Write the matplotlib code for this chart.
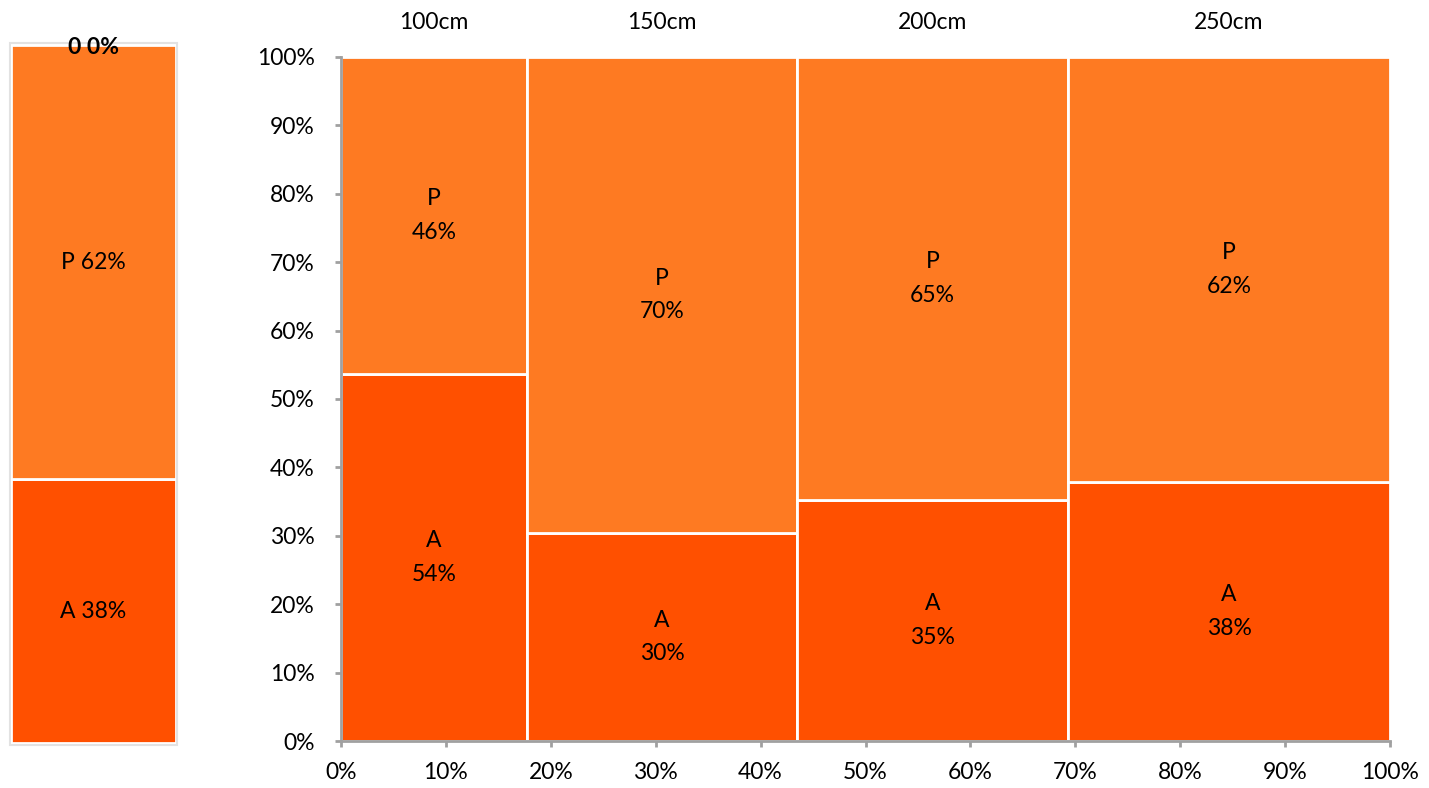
import matplotlib
matplotlib.use("Agg")
import matplotlib.pyplot as plt
from matplotlib.patches import Rectangle
from matplotlib.ticker import FuncFormatter, MultipleLocator

plt.rcParams['font.family'] = ['Lato', 'DejaVu Sans']

categories = ['100cm', '150cm', '200cm', '250cm']
widths = [17.7, 25.8, 25.8, 30.7]          # share of total (x, %)
a_share = [53.7, 30.4, 35.2, 37.9]         # share of A within column (%)
p_share = [100 - v for v in a_share]
total_a = 37.8
total_p = 62.2
series = ['A', 'P']
col_a = '#FF5000'
col_p = '#FE7A22'
FS = 16.5

W, H = 1429, 788
fig = plt.figure(figsize=(W / 100, H / 100), dpi=100)

# ---- main mosaic chart ----
ax = fig.add_axes([341 / W, (H - 741) / H, 1049 / W, 684 / H])
left = 0.0
for cat, w, a, p in zip(categories, widths, a_share, p_share):
    ax.bar(left, a, width=w, align='edge', color=col_a, edgecolor='white', linewidth=2)
    ax.bar(left, p, width=w, bottom=a, align='edge', color=col_p, edgecolor='white', linewidth=2)
    cx = left + w / 2
    ax.text(cx, a / 2, f"A\n{round(a)}%", ha='center', va='center', fontsize=FS, linespacing=1.75)
    ax.text(cx, a + p / 2, f"P\n{round(p)}%", ha='center', va='center', fontsize=FS, linespacing=1.75)
    ax.text(cx, 105.1, cat, ha='center', va='center', fontsize=FS)
    left += w

ax.set_xlim(0, 100)
ax.set_ylim(0, 100)
ax.xaxis.set_major_locator(MultipleLocator(10))
ax.yaxis.set_major_locator(MultipleLocator(10))
pct = FuncFormatter(lambda v, _: f"{v:.0f}%")
ax.xaxis.set_major_formatter(pct)
ax.yaxis.set_major_formatter(pct)
for s in ['top', 'right']:
    ax.spines[s].set_visible(False)
for s in ['left', 'bottom']:
    ax.spines[s].set_color('#A0A0A0')
    ax.spines[s].set_linewidth(2)
ax.tick_params(axis='both', colors='#A0A0A0', width=2, length=4, labelsize=FS, labelcolor='black')
ax.tick_params(axis='x', pad=11)
ax.tick_params(axis='y', pad=15)

# ---- left total bar ----
ax2 = fig.add_axes([11 / W, (H - 743) / H, 165 / W, 698 / H])
ax2.set_xlim(0, 1)
ax2.set_ylim(0, 100)
ax2.add_patch(Rectangle((-0.008, -0.25), 1.016, 100.5, facecolor='none', edgecolor='#E2E2E2',
                        linewidth=1.5, clip_on=False, zorder=0))
ax2.bar(0, total_a, width=1, align='edge', color=col_a, edgecolor='white', linewidth=2)
ax2.bar(0, total_p, width=1, bottom=total_a, align='edge', color=col_p, edgecolor='white', linewidth=2)
ax2.text(0.5, total_a / 2, f"A {round(total_a)}%", ha='center', va='center', fontsize=FS)
ax2.text(0.5, total_a + total_p / 2, f"P {round(total_p)}%", ha='center', va='center', fontsize=FS)
ax2.text(0.5, 99.7, "0 0%", ha='center', va='center', fontsize=FS, fontweight='bold')
ax2.axis('off')

fig.savefig('out.png', dpi=100)
